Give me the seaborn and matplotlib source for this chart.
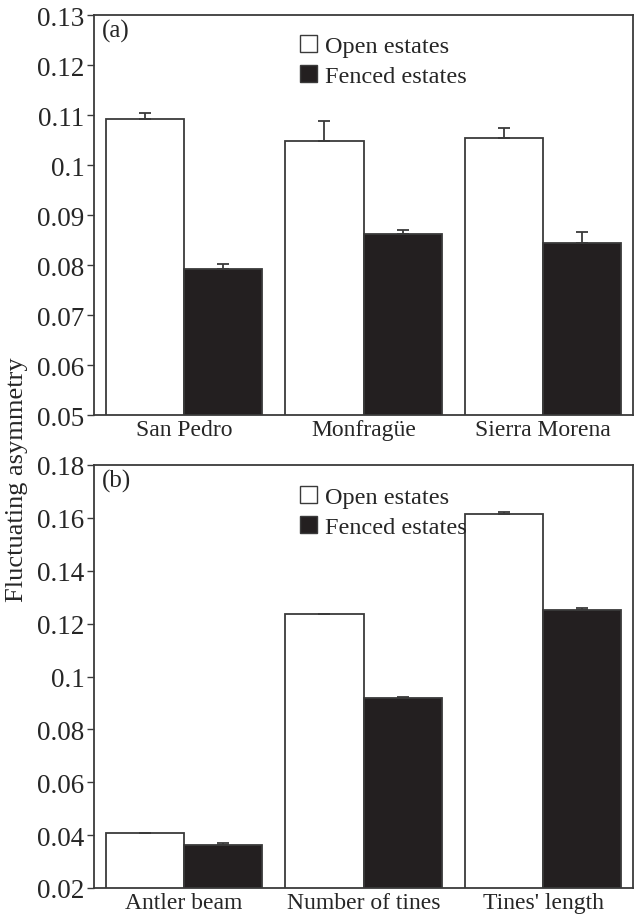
import numpy as np
import pandas as pd
import matplotlib
matplotlib.use("Agg")
import matplotlib.pyplot as plt
from matplotlib.patches import Patch
from matplotlib.ticker import FuncFormatter, MultipleLocator
import seaborn as sns

# ---- data ----
groups = ["Open estates", "Fenced estates"]

sites = ["San Pedro", "Monfragüe", "Sierra Morena"]
open_a = [0.1093, 0.1048, 0.1055]
open_a_err = [0.0012, 0.0041, 0.0019]
fenced_a = [0.0793, 0.0863, 0.0845]
fenced_a_err = [0.0010, 0.0007, 0.0021]

traits = ["Antler beam", "Number of tines", "Tines' length"]
open_b = [0.0408, 0.1237, 0.1615]
open_b_err = [0.0001, 0.0001, 0.0006]
fenced_b = [0.0363, 0.0918, 0.1253]
fenced_b_err = [0.0007, 0.0006, 0.0007]

sns.set_theme(style="white")
plt.rcParams["font.family"] = ["Liberation Serif", "DejaVu Serif"]

EDGE = "#3a3a3a"
BLACK = "#231f20"
FS_Y = 19.5
FS_X = 17
FS_LEG = 17.5
FS_TAG = 18

fig = plt.figure(figsize=(6.41, 9.2), dpi=100)
W, H = 641, 920
L, R = 94, 633
ax1 = fig.add_axes([L / W, 1 - 416 / H, (R - L) / W, 400 / H])
ax2 = fig.add_axes([L / W, 1 - 889 / H, (R - L) / W, 423 / H])


def panel(ax, cats, ov, oe, fv, fe, ylim, step, tag):
    df = pd.DataFrame({
        "cat": cats * 2,
        "grp": [groups[0]] * len(cats) + [groups[1]] * len(cats),
        "val": list(ov) + list(fv),
    })
    sns.barplot(data=df, x="cat", y="val", hue="grp", hue_order=groups,
                palette={groups[0]: "white", groups[1]: BLACK},
                edgecolor=EDGE, linewidth=1.3, width=0.87, gap=0,
                errorbar=None, legend=False, ax=ax, saturation=1)
    for cont, errs in zip(ax.containers, [oe, fe]):
        xs = [p.get_x() + p.get_width() / 2 for p in cont.patches]
        ys = [p.get_height() for p in cont.patches]
        ax.errorbar(xs, ys, yerr=[np.zeros(len(errs)), errs], fmt="none",
                    ecolor=EDGE, elinewidth=1.3, capsize=4, capthick=1.3,
                    zorder=1)
    ax.set_ylim(*ylim)
    ax.set_xlim(-0.5, 2.5)
    ax.yaxis.set_major_locator(MultipleLocator(step))
    ax.yaxis.set_major_formatter(FuncFormatter(lambda v, p: f"{round(v, 4):g}"))
    ax.set_xlabel("")
    ax.set_ylabel("")
    ax.tick_params(axis="y", which="major", direction="out", length=5,
                   width=1, color=EDGE, labelsize=FS_Y, left=True, pad=2)
    ax.tick_params(axis="x", length=0, labelsize=FS_X, pad=3)
    for s in ax.spines.values():
        s.set_color(EDGE)
        s.set_linewidth(1.3)
    ax.text(0.015, 0.99, tag, transform=ax.transAxes, fontsize=FS_TAG,
            va="top", ha="left")
    handles = [Patch(facecolor="white", edgecolor=EDGE, linewidth=1.0),
               Patch(facecolor=BLACK, edgecolor=EDGE, linewidth=1.0)]
    ax.legend(handles, groups, loc="upper left", bbox_to_anchor=(0.383, 0.95),
              frameon=False, fontsize=FS_LEG, handlelength=0.7, handleheight=0.7,
              handletextpad=0.3, labelspacing=0.32, borderaxespad=0,
              borderpad=0)


panel(ax1, sites, open_a, open_a_err, fenced_a, fenced_a_err, (0.05, 0.13), 0.01, "(a)")
panel(ax2, traits, open_b, open_b_err, fenced_b, fenced_b_err, (0.02, 0.18), 0.02, "(b)")

fig.text(17 / W, 1 - 480 / H, "Fluctuating asymmetry", rotation=90,
         ha="center", va="center", fontsize=19)

fig.savefig("out.png", dpi=100)
